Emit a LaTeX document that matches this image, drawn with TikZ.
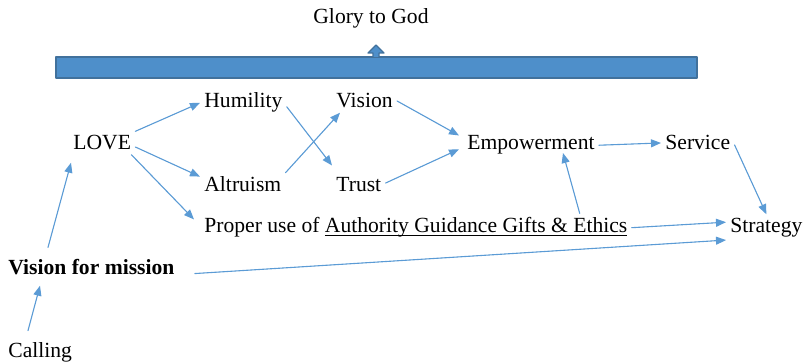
\documentclass[tikz,border=0pt]{standalone}
\usepackage{fontspec}
\setmainfont{Liberation Serif}
\usetikzlibrary{arrows.meta}
\definecolor{linkblue}{HTML}{5B9BD5}
\definecolor{barfill}{HTML}{4E8FCA}
\definecolor{baredge}{HTML}{41719C}
\begin{document}
\begin{tikzpicture}[x=0.5pt, y=-0.5pt, line cap=round, line join=round,
  font=\fontsize{10.8}{13}\selectfont,
  word/.style={anchor=base west, inner sep=2pt, xshift=-2pt},
  link/.style={draw=linkblue, line width=0.55pt, -{Triangle[length=5pt,width=4pt]}, fill=linkblue}]
\useasboundingbox (0,0) rectangle (805,363);
% Top bar with its small up arrow
\def\barL{56} \def\barR{697} \def\barT{57} \def\barB{78}
\def\tipX{376}
\fill[barfill, draw=baredge, line width=0.7pt] (\barL,\barT) rectangle (\barR,\barB);
\fill[barfill, draw=baredge, line width=0.6pt]
  (\tipX-3,\barT) -- (\tipX-3,53) -- (\tipX-8,53) -- (\tipX,45)
  -- (\tipX+8,53) -- (\tipX+3,53) -- (\tipX+3,\barT);
% Labels
\node[word] (glory) at (313,24) {Glory to God};
\node[word] (humility) at (204,108) {Humility};
\node[word] (vision) at (336,108) {Vision};
\node[word] (love) at (73,150) {LOVE};
\node[word] (empower) at (467,150) {Empowerment};
\node[word] (service) at (665,150) {Service};
\node[word] (altruism) at (204,192) {Altruism};
\node[word] (trust) at (336,192) {Trust};
\node[word] (proper) at (204,233) {Proper use of \underline{\smash{Authority Guidance Gifts \& Ethics}}};
\node[word] (strategy) at (730,233) {Strategy};
\node[word] (mission) at (8,275) {\bfseries Vision for mission};
\node[word] (calling) at (8,358) {Calling};
% Arrows out of LOVE
\draw[link] (love.north east) -- (humility.west);
\draw[link] ([yshift=-2pt]love.east) -- ([yshift=-2pt]altruism.north west);
\draw[link] ([xshift=-2pt]love.south east) -- ([shift={(-3pt,-3pt)}]proper.north west);
% Middle crossings
\draw[link] ([yshift=-2pt]humility.east) -- ([yshift=4pt]trust.north west);
\draw[link] (altruism.north east) -- ([xshift=4pt]vision.south west);
\draw[link] (vision.east) -- ([shift={(-2pt,-2pt)}]empower.north west);
\draw[link] ([yshift=1pt]trust.east) -- ([shift={(-2pt,-2pt)}]empower.west);
\draw[link] (empower.east) -- (service.west);
% Into strategy
\draw[link] ([yshift=-1pt]service.east) -- (strategy.north);
\draw[link] ([xshift=-26pt]proper.north east) -- ([shift={(16pt,3pt)}]empower.south);
\draw[link] (proper.east) -- ([yshift=3pt]strategy.west);
\draw[link] ([shift={(8pt,-3pt)}]mission.east) -- ([yshift=1pt]strategy.south west);
% Upward arrows on the left
\draw[link] ([shift={(22pt,4pt)}]mission.north west) -- ([shift={(1pt,-4pt)}]love.south west);
\draw[link] ([shift={(12pt,4pt)}]calling.north west) -- ([shift={(18pt,-3pt)}]mission.south west);
\end{tikzpicture}
\end{document}
